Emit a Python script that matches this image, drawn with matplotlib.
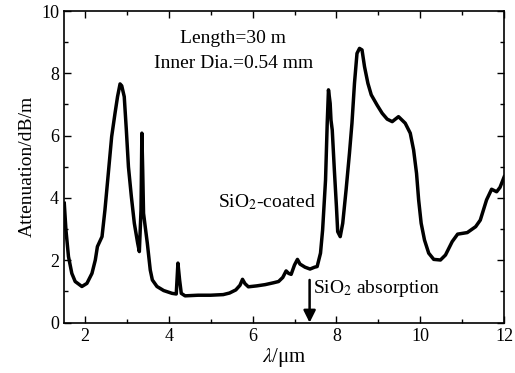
import matplotlib.pyplot as plt
from matplotlib.ticker import MultipleLocator

plt.rcParams['font.family'] = ['Liberation Serif', 'DejaVu Serif']
plt.rcParams['mathtext.fontset'] = 'stix'

# attenuation spectrum
wavelength = [1.51, 1.55, 1.61, 1.69, 1.77, 1.93, 2.05, 2.17, 2.25, 2.30, 2.41,
              2.48, 2.56, 2.64, 2.72, 2.78, 2.84, 2.88, 2.94, 2.99, 3.04, 3.11,
              3.18, 3.26, 3.30, 3.34, 3.36, 3.38, 3.40, 3.44, 3.49, 3.56, 3.61,
              3.72, 3.88, 4.08, 4.18, 4.22, 4.26, 4.30, 4.39, 4.7, 5.0, 5.3,
              5.45, 5.6, 5.7, 5.76, 5.82, 5.9, 6.1, 6.3, 6.5, 6.62, 6.72, 6.8,
              6.86, 6.92, 7.0, 7.07, 7.13, 7.25, 7.37, 7.48, 7.54, 7.62, 7.67,
              7.74, 7.78, 7.81, 7.85, 7.87, 7.90, 7.95, 8.00, 8.03, 8.09, 8.15,
              8.23, 8.31, 8.37, 8.43, 8.49, 8.55, 8.61, 8.67, 8.75, 8.83, 8.97,
              9.09, 9.21, 9.33, 9.48, 9.64, 9.76, 9.84, 9.91, 9.96, 10.02, 10.10,
              10.20, 10.32, 10.48, 10.60, 10.76, 10.89, 11.12, 11.32, 11.43,
              11.58, 11.70, 11.82, 11.90, 12.0]
attenuation = [3.83, 2.97, 2.12, 1.58, 1.32, 1.16, 1.26, 1.58, 2.01, 2.44, 2.76,
               3.62, 4.79, 5.97, 6.72, 7.25, 7.66, 7.60, 7.25, 6.18, 5.00, 4.04,
               3.19, 2.55, 2.28, 3.62, 6.08, 4.90, 3.51, 3.08, 2.55, 1.69, 1.37,
               1.16, 1.03, 0.94, 0.92, 1.91, 1.37, 0.94, 0.86, 0.88, 0.88, 0.90,
               0.95, 1.05, 1.20, 1.39, 1.25, 1.15, 1.18, 1.22, 1.28, 1.32, 1.45,
               1.66, 1.58, 1.55, 1.85, 2.03, 1.88, 1.78, 1.72, 1.78, 1.80, 2.23,
               2.97, 4.58, 6.40, 7.47, 7.04, 6.50, 6.18, 4.90, 3.72, 2.92, 2.76,
               3.19, 4.26, 5.43, 6.40, 7.68, 8.64, 8.80, 8.75, 8.21, 7.68, 7.31,
               6.98, 6.72, 6.53, 6.45, 6.61, 6.40, 6.08, 5.54, 4.79, 3.94, 3.19,
               2.65, 2.23, 2.03, 2.01, 2.17, 2.60, 2.84, 2.89, 3.08, 3.29, 3.94,
               4.28, 4.20, 4.34, 4.68]

fig = plt.figure(figsize=(5.15, 3.73), dpi=100)
ax = fig.add_axes([0.124, 0.135, 0.855, 0.8355])

ax.plot(wavelength, attenuation, color='black', linewidth=2.5,
        solid_joinstyle='round')

ax.set_xlim(1.5, 12)
ax.set_ylim(0, 10)
ax.xaxis.set_major_locator(MultipleLocator(2))
ax.xaxis.set_minor_locator(MultipleLocator(1))
ax.yaxis.set_major_locator(MultipleLocator(2))
ax.yaxis.set_minor_locator(MultipleLocator(1))
ax.tick_params(which='both', direction='in', top=True, right=True, labelsize=13)
ax.tick_params(which='major', length=5, width=1)
ax.tick_params(which='minor', length=3, width=1)
for s in ax.spines.values():
    s.set_linewidth(1.2)

ax.set_xlabel(r'$\lambda$/μm', fontsize=15, labelpad=1)
ax.set_ylabel('Attenuation/dB/m', fontsize=14, labelpad=4)

ax.text(5.54, 9.13, 'Length=30 m', fontsize=14, ha='center', va='center')
ax.text(5.54, 8.33, 'Inner Dia.=0.54 mm', fontsize=14, ha='center', va='center')
ax.text(6.33, 3.87, r'SiO$_2$-coated', fontsize=14, ha='center', va='center')
ax.text(7.45, 1.11, r'SiO$_2$ absorption', fontsize=14, ha='left', va='center')
ax.annotate('', xy=(7.36, 0.0), xytext=(7.36, 1.37),
            arrowprops=dict(arrowstyle='-|>', color='black', lw=1.8,
                            mutation_scale=18, shrinkA=0, shrinkB=0))

fig.savefig('out.png', dpi=100)
